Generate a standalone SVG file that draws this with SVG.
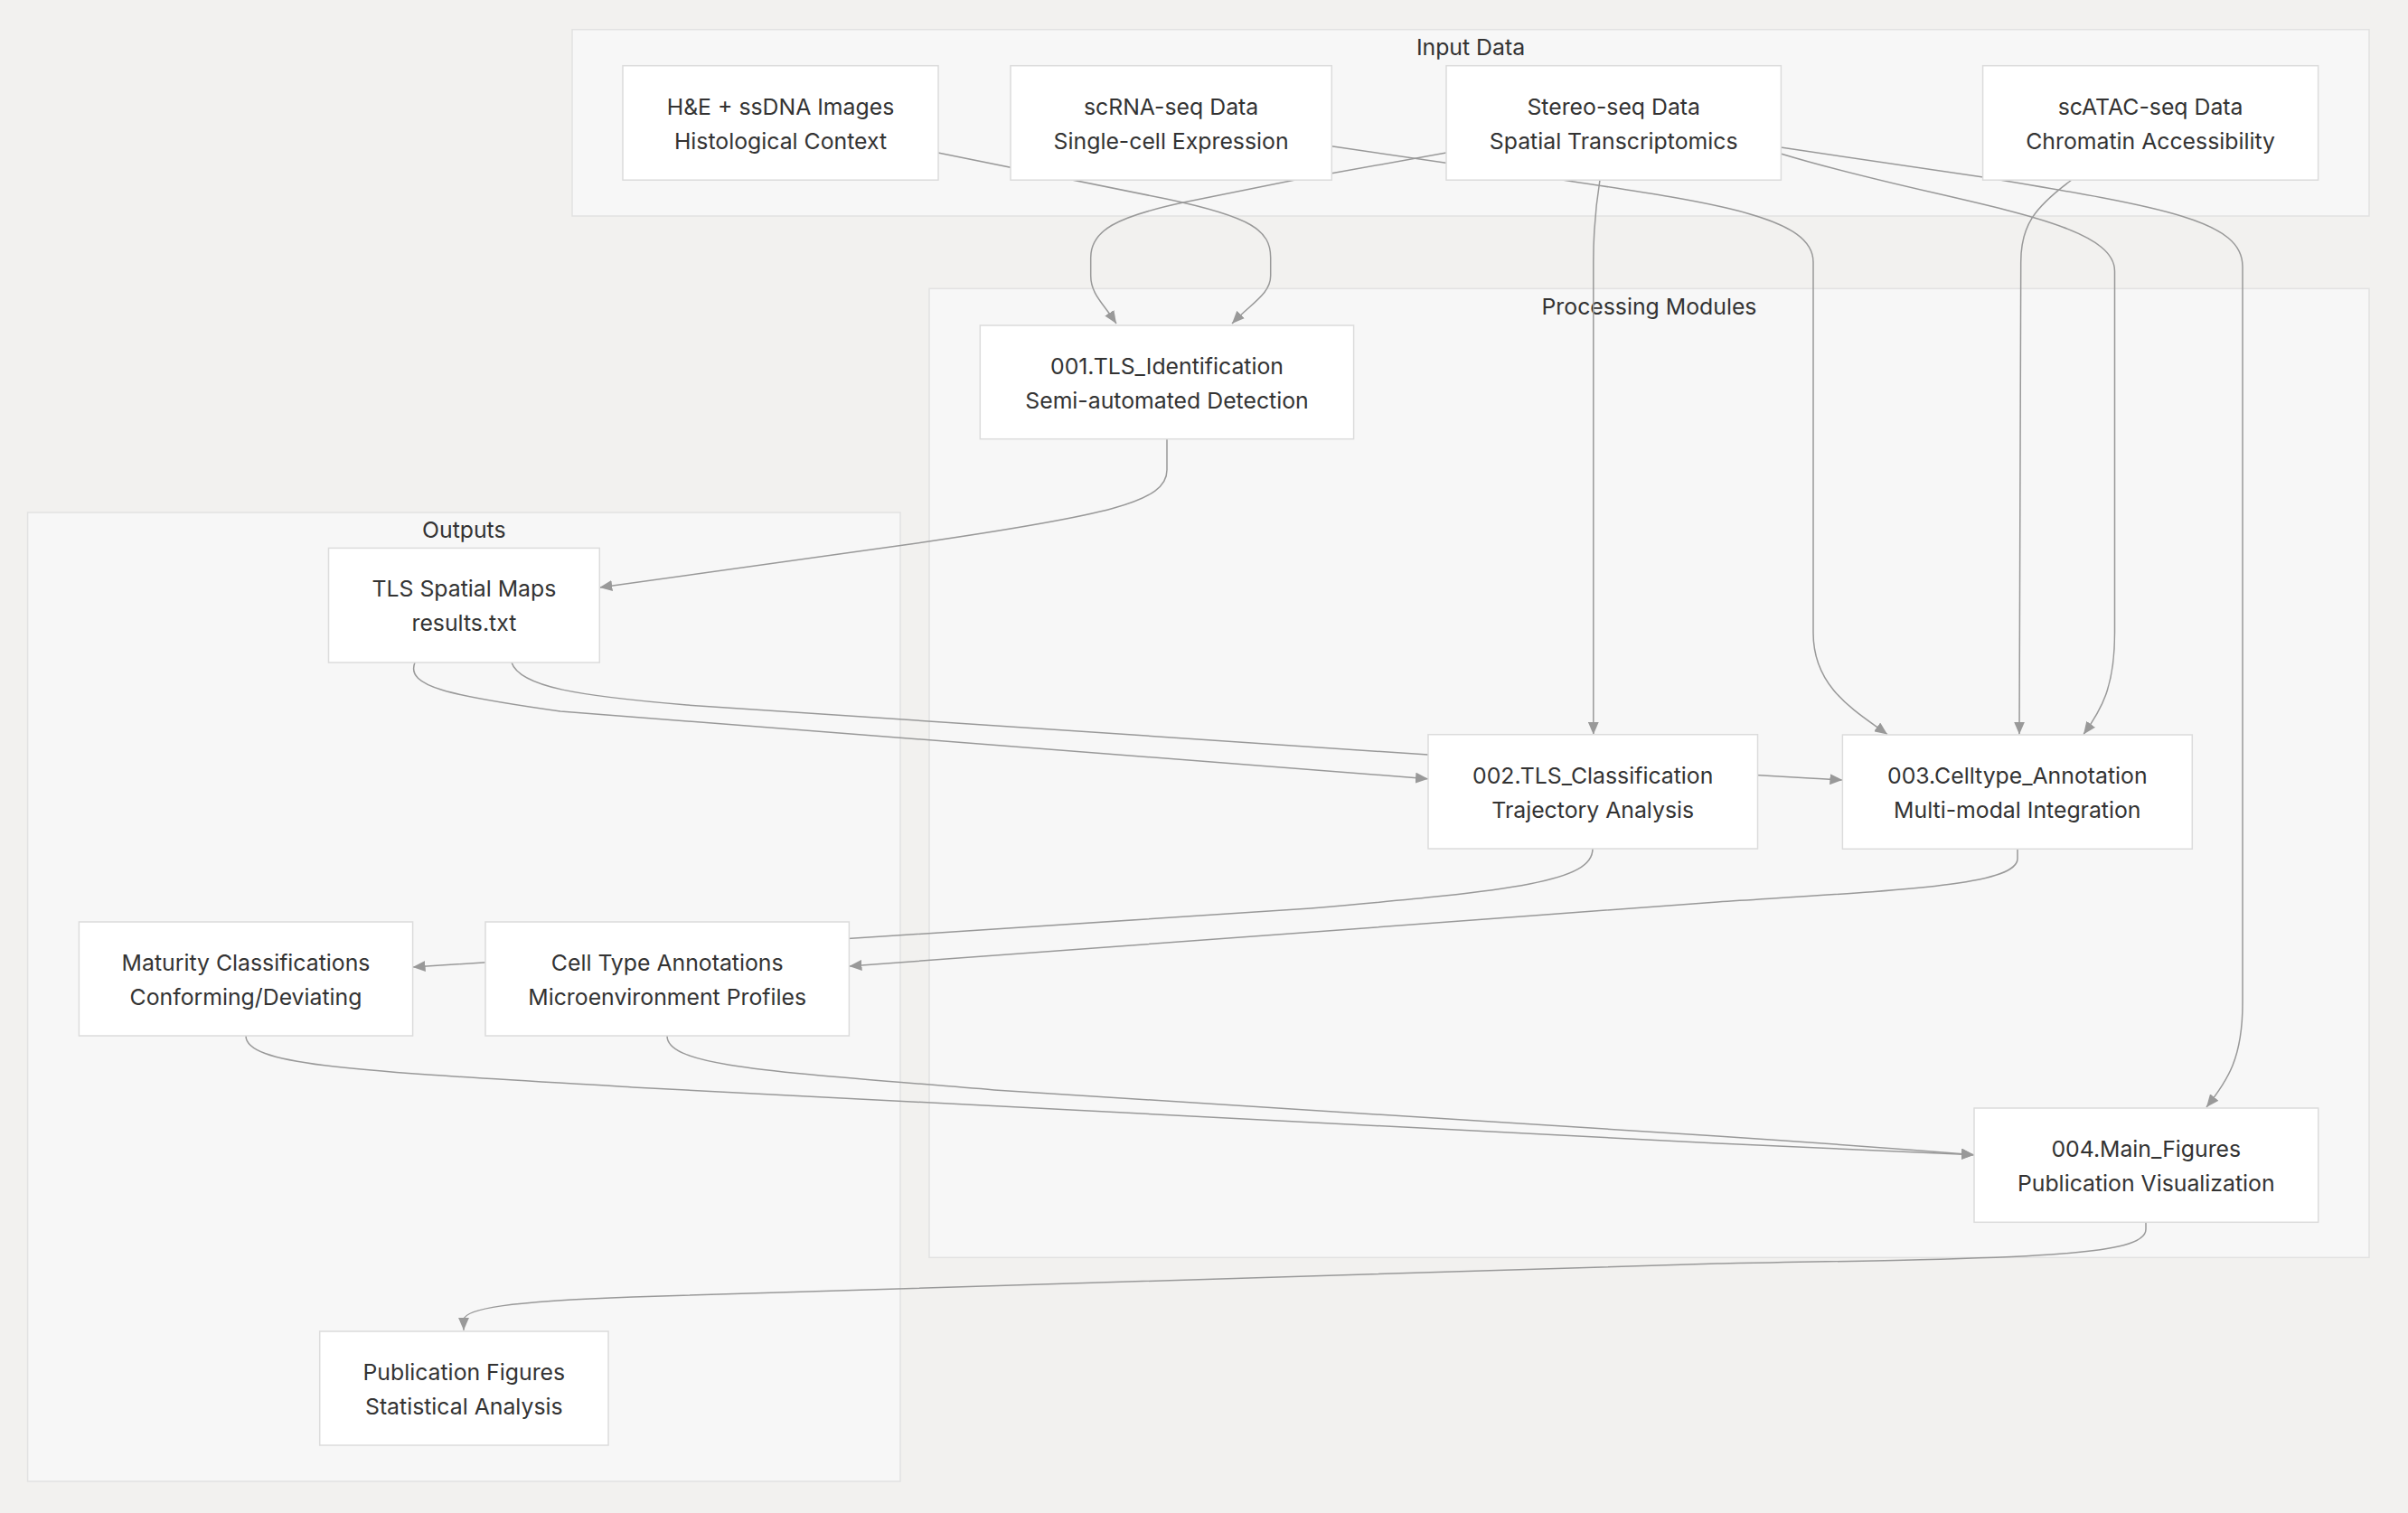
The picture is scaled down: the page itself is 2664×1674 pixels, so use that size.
<svg xmlns="http://www.w3.org/2000/svg" width="2664" height="1674" viewBox="0 0 2664 1674">
<style>
.bg{fill:#f2f1ef}
.cluster rect{fill:#f7f7f7;stroke:#e2e2e2;stroke-width:1.5}
.cluster text{font-family:Inter,"Liberation Sans",sans-serif;font-size:24.8px;fill:#333;text-anchor:middle}
.node rect{fill:#ffffff;stroke:#dcdcdc;stroke-width:1.5}
.node text{font-family:Inter,"Liberation Sans",sans-serif;font-size:24.8px;fill:#333;text-anchor:middle}
.edges path{fill:none;stroke:#999;stroke-width:1.5;marker-end:url(#arrow)}
</style>
<defs>
<marker id="arrow" viewBox="0 0 14 12" refX="14" refY="6" markerWidth="14" markerHeight="12" markerUnits="userSpaceOnUse" orient="auto">
<path d="M0,0 L14,6 L0,12 z" fill="#999"/>
</marker>
</defs>
<rect class="bg" x="0" y="0" width="2664" height="1674"/>
<g id="clusters">
<g id="cluster-input" class="cluster"><rect x="633" y="32.7" width="1988" height="206.3"/><text x="1627" y="61">Input Data</text></g>
<g id="cluster-processing" class="cluster"><rect x="1028" y="319.3" width="1593" height="1072"/><text x="1824.5" y="348">Processing Modules</text></g>
<g id="cluster-outputs" class="cluster"><rect x="30.6" y="567" width="965.4" height="1072"/><text x="513.3" y="595">Outputs</text></g>
</g>
<g id="connectors" class="edges">
<path id="e-he-001" d="M1037.7 169 L1290 220 C1385 240 1405.7 255 1405.7 285 L1405.7 305 C1405.7 325 1385 335 1363 358"/>
<path id="e-stereo-001" d="M1600 169 L1433 199 L1309 224 C1235 240 1206.7 255 1206.7 285 L1206.7 305 C1206.7 325 1220 335 1235 358"/>
<path id="e-scrna-003" d="M1473 161.7 L1722 198 C1900 225 2006 240 2006 290 L2006 700 C2006 760 2050 785 2088 812.6"/>
<path id="e-stereo-002" d="M1770 199 C1765 230 1762.8 255 1762.8 290 L1762.8 812.7"/>
<path id="e-stereo-003" d="M1970 170 C2150 225 2339.5 240 2339.5 300 L2339.5 700 C2339.5 760 2325 785 2305 812.6"/>
<path id="e-stereo-004" d="M1970 163 L2194 196 C2400 230 2481 245 2481 295 L2481 1110 C2481 1170 2465 1195 2441 1225"/>
<path id="e-scatac-003" d="M2292 199 C2250 230 2235.7 250 2235.7 290 L2234 812.6"/>
<path id="e-001-tls" d="M1291 486 L1291 520 C1291 555 1230 570 1000 603 L663.3 650"/>
<path id="e-tls-002" d="M459 733 C448 760 500 770 620 787 L1580 861.7"/>
<path id="e-tls-003" d="M566 733 C575 760 640 770 760 780 L1580 835 C1800 850 1950 858 2038.4 863"/>
<path id="e-002-mat" d="M1762 939 C1762 975 1680 985 1450 1005 L456.6 1070"/>
<path id="e-003-cell" d="M2232 939 L2232 950 C2232 980 2100 985 1900 998 L939.4 1069"/>
<path id="e-mat-004" d="M272 1146 C272 1180 400 1185 700 1203 L1900 1265 L2184 1277.7"/>
<path id="e-cell-004" d="M738 1146 C738 1180 850 1185 1100 1206 L1900 1257 C2050 1267 2150 1275 2184 1277.7"/>
<path id="e-004-pub" d="M2374 1352.6 L2374 1360 C2374 1390 2250 1392 1900 1398 L700 1435 C560 1440 515 1448 513 1460 L513 1471.8"/>
</g>
<g id="nodes">
<g id="n-he" class="node"><rect x="689" y="72.7" width="349" height="126.5"/><text x="863.5" y="126.5">H&amp;E + ssDNA Images</text><text x="863.5" y="164.5">Histological Context</text></g>
<g id="n-scrna" class="node"><rect x="1118" y="72.7" width="355.3" height="126.5"/><text x="1295.6" y="126.5">scRNA-seq Data</text><text x="1295.6" y="164.5">Single-cell Expression</text></g>
<g id="n-stereo" class="node"><rect x="1600" y="72.7" width="370.4" height="126.5"/><text x="1785.2" y="126.5">Stereo-seq Data</text><text x="1785.2" y="164.5">Spatial Transcriptomics</text></g>
<g id="n-scatac" class="node"><rect x="2193.6" y="72.7" width="371" height="126.5"/><text x="2379.1" y="126.5">scATAC-seq Data</text><text x="2379.1" y="164.5">Chromatin Accessibility</text></g>
<g id="n-001" class="node"><rect x="1084.3" y="360" width="413.3" height="125.7"/><text x="1291" y="413.5">001.TLS_Identification</text><text x="1291" y="451.5">Semi-automated Detection</text></g>
<g id="n-tls" class="node"><rect x="363.5" y="606.4" width="299.8" height="126.6"/><text x="513.4" y="660">TLS Spatial Maps</text><text x="513.4" y="698">results.txt</text></g>
<g id="n-002" class="node"><rect x="1580" y="812.7" width="364.5" height="126.3"/><text x="1762.2" y="866.5">002.TLS_Classification</text><text x="1762.2" y="904.5">Trajectory Analysis</text></g>
<g id="n-003" class="node"><rect x="2038.4" y="813" width="386.9" height="126.3"/><text x="2231.8" y="866.7">003.Celltype_Annotation</text><text x="2231.8" y="904.7">Multi-modal Integration</text></g>
<g id="n-mat" class="node"><rect x="87.4" y="1020" width="369.2" height="126"/><text x="272" y="1073.5">Maturity Classifications</text><text x="272" y="1111.5">Conforming/Deviating</text></g>
<g id="n-cell" class="node"><rect x="537" y="1020" width="402.4" height="126"/><text x="738.2" y="1073.5">Cell Type Annotations</text><text x="738.2" y="1111.5">Microenvironment Profiles</text></g>
<g id="n-004" class="node"><rect x="2184" y="1226" width="380.7" height="126.3"/><text x="2374.3" y="1279.7">004.Main_Figures</text><text x="2374.3" y="1317.7">Publication Visualization</text></g>
<g id="n-pub" class="node"><rect x="353.7" y="1473" width="319.3" height="126"/><text x="513.3" y="1526.5">Publication Figures</text><text x="513.3" y="1564.5">Statistical Analysis</text></g>
</g>
</svg>
